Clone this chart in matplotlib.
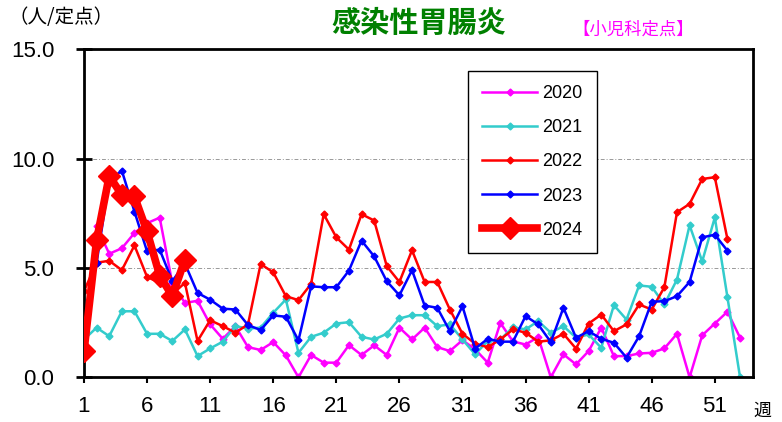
import numpy as np
import matplotlib
matplotlib.use("Agg")
from matplotlib import pyplot as plt

# weekly values (per sentinel site)
y2020 = [1.4, 6.9, 5.65, 5.9, 6.6, 7.05, 7.3, 4.3, 3.4, 3.5,
         2.42, 1.76, 2.34, 1.38, 1.25, 1.61, 1.0, 0.0, 1.02, 0.67,
         0.67, 1.47, 1.02, 1.46, 1.02, 2.27, 1.73, 2.27, 1.38, 1.2,
         1.7, 1.28, 0.67, 2.49, 1.64, 1.5, 1.84, 0.0, 1.05, 0.59,
         1.2, 2.27, 0.97, 0.97, 1.09, 1.12, 1.32, 1.99, 0.0, 1.92,
         2.46, 3.0, 1.81]
y2021 = [1.73, 2.27, 1.88, 3.02, 3.02, 1.99, 1.99, 1.66, 2.19, 0.97,
         1.32, 1.63, 2.34, 2.23, 2.27, 2.95, 3.56, 1.12, 1.85, 2.04,
         2.46, 2.52, 1.85, 1.73, 1.99, 2.69, 2.84, 2.84, 2.34, 2.42,
         1.73, 1.05, 1.66, 1.73, 2.29, 2.19, 2.57, 2.04, 2.34, 1.81,
         1.96, 1.35, 3.3, 2.64, 4.2, 4.14, 3.33, 4.47, 6.95, 5.3,
         7.31, 3.66, 0.0]
y2022 = [3.94, 5.24, 5.33, 4.9, 6.03, 4.59, 4.32, 3.8, 4.32, 1.66,
         2.61, 2.34, 2.04, 2.42, 5.18, 4.8, 3.71, 3.53, 4.27, 7.46,
         6.4, 5.84, 7.46, 7.17, 5.08, 4.36, 5.81, 4.36, 4.36, 3.1,
         1.99, 1.54, 1.38, 1.73, 2.19, 2.04, 1.63, 1.69, 1.99, 1.31,
         2.46, 2.87, 2.11, 2.42, 3.33, 3.1, 4.12, 7.55, 7.93, 9.07,
         9.15, 6.32]
y2023 = [2.64, 5.24, 9.0, 9.45, 7.58, 5.76, 5.84, 4.4, 5.2, 3.86,
         3.55, 3.14, 3.1, 2.39, 2.16, 2.83, 2.77, 1.69, 4.16, 4.12,
         4.12, 4.88, 6.25, 5.53, 4.39, 3.75, 4.9, 3.28, 3.18, 2.11,
         3.25, 1.31, 1.76, 1.63, 1.63, 2.8, 2.42, 1.61, 3.18, 1.81,
         2.11, 1.76, 1.58, 0.9, 1.88, 3.46, 3.48, 3.71, 4.36, 6.4,
         6.52, 5.79]
y2024 = [1.2, 6.26, 9.21, 8.34, 8.27, 6.67, 4.65, 3.71, 5.38]

years = ["2020", "2021", "2022", "2023", "2024"]
series = [y2020, y2021, y2022, y2023, y2024]
colors = ["#FF00FF", "#33CCCC", "#FF0000", "#0000FF", "#FF0000"]

plt.rcParams['font.family'] = ['Liberation Sans', 'Noto Sans CJK JP']
jp = ['Noto Sans CJK JP', 'DejaVu Sans']

fig = plt.figure(figsize=(7.82, 4.22), dpi=100)
ax = fig.add_axes([0.1074, 0.1059, 0.8551, 0.7773])

for name, vals, c in zip(years, series, colors):
    weeks = np.arange(1, len(vals) + 1)
    if name == "2024":
        ax.plot(weeks, vals, color=c, lw=5.5, marker='D', ms=11,
                label=name, zorder=5)
    else:
        ax.plot(weeks, vals, color=c, lw=1.8, marker='D', ms=3.5,
                label=name)

ax.set_xlim(1, 54)
ax.set_ylim(0, 15)
ax.set_xticks(np.arange(1, 52, 5))
ax.set_yticks([0, 5, 10, 15])
ax.set_yticklabels(["%.1f" % v for v in [0, 5, 10, 15]])
ax.tick_params(axis='y', direction='inout', length=11, width=2,
               labelsize=16, pad=16)
ax.tick_params(axis='x', direction='out', length=4.5, width=1.5,
               labelsize=16, pad=9)
for s in ax.spines.values():
    s.set_linewidth(2)

# dotted reference lines at 5 and 10
for g in [5, 10]:
    ax.axhline(g, color='#999999', lw=0.7, ls=(0, (4, 2, 1, 2)), zorder=0)

leg = ax.legend(loc='upper left', bbox_to_anchor=(468 / 782, 1 - 70.7 / 422),
                bbox_transform=fig.transFigure, fontsize=13,
                fancybox=False, framealpha=1, edgecolor='black',
                handlelength=3.0, handletextpad=0.3, labelspacing=0.95,
                borderpad=0.8, borderaxespad=0)
leg.get_frame().set_linewidth(1.0)

fig.text(419 / 782, 1 - 23 / 422, "感染性胃腸炎", ha='center', va='center',
         fontsize=21, fontweight='bold', color='#008000', family=jp)
fig.text(633 / 782, 1 - 30 / 422, "【小児科定点】", ha='center', va='center',
         fontsize=12.5, color='#FF00FF', family=jp)
fig.text(8 / 782, 1 - 18 / 422, "（人/定点）", ha='left', va='center',
         fontsize=14, color='black', family=jp)
fig.text(762 / 782, 1 - 411 / 422, "週", ha='center', va='center',
         fontsize=13, color='black', family=jp)

fig.savefig("out.png", dpi=100)
